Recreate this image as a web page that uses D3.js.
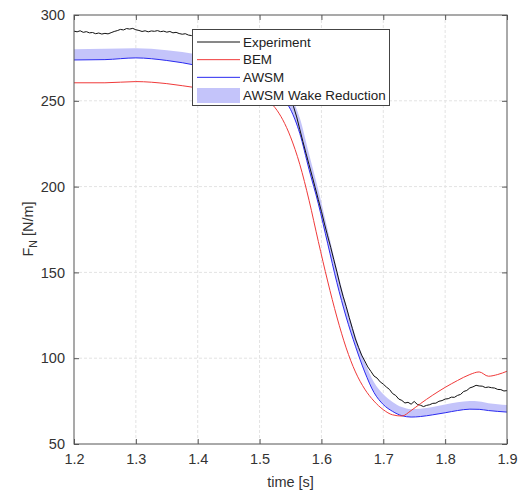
<!DOCTYPE html>
<html>
<head>
<meta charset="utf-8">
<script src="https://cdn.jsdelivr.net/npm/d3@7"></script>
<style>
  body { margin: 0; background: #fff; }
  svg { display: block; font-family: "Liberation Sans", Arial, sans-serif; }
</style>
</head>
<body>
<svg width="521" height="493"></svg>
<script>
// time grid for the two models [s]
const tModel = [1.2, 1.25, 1.3, 1.35, 1.4, 1.45, 1.5, 1.525, 1.55, 1.565, 1.58, 1.595, 1.61, 1.625,
  1.64, 1.655, 1.67, 1.685, 1.7, 1.715, 1.73, 1.745, 1.76, 1.78, 1.8, 1.82, 1.84, 1.855, 1.87, 1.885, 1.9]

// BEM normal force [N/m]
const bem = [260.5, 260.5, 261.2, 260, 257.5, 255.5, 252, 246, 229, 213, 192, 168, 145, 124,
  106, 92, 82, 75, 70, 67, 66.3, 69.5, 73.5, 78.5, 83, 87, 90.5, 92, 89.5, 90.5, 92.4]

// AWSM normal force (lower edge of band) [N/m]
const awsm = [273.8, 274, 275, 273.5, 270.5, 266, 259, 254, 245, 231, 210, 190, 167, 144,
  124, 107, 92, 80, 73, 69, 66.5, 65.7, 66, 67, 68.2, 69.5, 70.3, 70.2, 69.5, 69, 68.6]

// AWSM with wake reduction, upper edge of band [N/m]
const awsmUpper = [280, 280.3, 280.6, 279.5, 277, 273, 266, 261, 253, 240, 219, 198, 175, 152,
  131, 113, 98, 86, 79, 74.5, 71.5, 70.3, 70.5, 71.5, 73, 74.3, 75, 74.8, 73.8, 73.2, 72.7]

// experiment, sampled every 5 ms from 1.2 s
const expStart = 1.2
const expStep = 0.005
const experiment = [
  290.6, 290.2, 290.8, 289.9, 290.3, 289.6, 289.8, 289.1, 289.5, 288.9,
  289.3, 289.0, 289.7, 290.4, 290.9, 291.6, 291.3, 292.1, 291.8, 292.2,
  291.4, 291.0, 290.4, 290.8, 290.2, 290.7, 290.5, 290.9, 290.3, 290.6,
  290.0, 290.4, 289.6, 289.9, 289.2, 288.8, 289.1, 288.3, 288.0, 288.4,
  287.9, 287.6, 288.0, 287.4, 287.1, 287.5, 286.8, 286.5, 286.9, 286.2,
  285.9, 285.6, 285.9, 285.1, 284.7, 284.9, 284.2, 283.6, 283.0, 282.0,
  280.6, 279.3, 277.5, 275.6, 273.2, 270.4, 267.3, 263.8, 259.9, 255.8,
  251.2, 246.5, 240.6, 233.4, 226.3, 219.5, 212.8, 206.1, 199.3, 192.4,
  185.6, 178.2, 171.3, 164.6, 157.4, 150.3, 142.8, 136.1, 130.2, 123.6,
  117.4, 111.2, 106.3, 101.8, 98.4, 94.9, 92.3, 89.6, 88.4, 86.2,
  84.9, 83.2, 81.8, 79.4, 78.3, 76.2, 75.4, 73.9, 74.3, 73.2,
  74.8, 73.1, 72.6, 71.8, 72.5, 72.9, 73.7, 73.8, 74.9, 75.3,
  76.2, 76.4, 77.3, 77.2, 78.3, 78.9, 80.6, 81.2, 82.7, 83.3,
  84.2, 83.8, 83.7, 82.9, 83.2, 82.8, 82.6, 81.8, 81.7, 80.9,
  81.1
]

const xTicks = [1.2, 1.3, 1.4, 1.5, 1.6, 1.7, 1.8, 1.9]
const yTicks = [50, 100, 150, 200, 250, 300]
const legendNames = ["Experiment", "BEM", "AWSM", "AWSM Wake Reduction"]

//axes box
const boxLeft = 74, boxRight = 507, boxTop = 15, boxBottom = 444

const svg = d3.select("svg")

const x = d3.scaleLinear().domain([1.2, 1.9]).range([boxLeft, boxRight])
const y = d3.scaleLinear().domain([50, 300]).range([boxBottom, boxTop])

const clip = svg.append("clipPath").attr("id", "plotclip")
clip.append("rect")
  .attr("x", boxLeft).attr("y", boxTop)
  .attr("width", boxRight - boxLeft).attr("height", boxBottom - boxTop)

//grid
const grid = svg.append("g")
grid.selectAll("line.gx")
  .data(xTicks.slice(1, -1))
  .enter().append("line")
  .attr("class", "gx")
  .attr("x1", d => x(d)).attr("x2", d => x(d))
  .attr("y1", boxTop).attr("y2", boxBottom)
grid.selectAll("line.gy")
  .data(yTicks.slice(1, -1))
  .enter().append("line")
  .attr("class", "gy")
  .attr("y1", d => y(d)).attr("y2", d => y(d))
  .attr("x1", boxLeft).attr("x2", boxRight)
grid.selectAll("line")
  .attr("stroke", "#e3e3e3")
  .attr("stroke-dasharray", "3,2")

const plot = svg.append("g").attr("clip-path", "url(#plotclip)")

//wake reduction band
const modelRows = tModel.map((t, i) => ({ t: t, bem: bem[i], lo: awsm[i], hi: awsmUpper[i] }))

const bandGen = d3.area()
  .x(d => x(d.t))
  .y0(d => y(d.lo))
  .y1(d => y(d.hi))
  .curve(d3.curveMonotoneX)

plot.append("path")
  .attr("d", bandGen(modelRows))
  .attr("fill", "#c4c4fa")

const awsmLine = d3.line().x(d => x(d.t)).y(d => y(d.lo)).curve(d3.curveMonotoneX)
plot.append("path")
  .attr("d", awsmLine(modelRows))
  .attr("fill", "none")
  .attr("stroke", "#2a2af0")
  .attr("stroke-width", 1)

const expRows = experiment.map((v, i) => ({ t: expStart + i * expStep, v: v }))
const expLine = d3.line().x(d => x(d.t)).y(d => y(d.v))
plot.append("path")
  .attr("d", expLine(expRows))
  .attr("fill", "none")
  .attr("stroke", "#111")
  .attr("stroke-width", 1)

const bemLine = d3.line().x(d => x(d.t)).y(d => y(d.bem)).curve(d3.curveMonotoneX)
plot.append("path")
  .attr("d", bemLine(modelRows))
  .attr("fill", "none")
  .attr("stroke", "#f03a3a")
  .attr("stroke-width", 1)

//axes with inward ticks on all four sides
const axisColor = "#555"
const tickLen = 5
const styleAxis = function (g) {
  g.attr("font-family", null)
  g.select(".domain").remove()
  g.selectAll(".tick line").attr("stroke", axisColor)
  g.selectAll(".tick text").attr("fill", "#333").style("font-size", "14.5px")
}

svg.append("g")
  .attr("transform", `translate(0,${boxBottom})`)
  .call(d3.axisBottom(x).tickValues(xTicks).tickFormat(d3.format(".1f")).tickSizeInner(-tickLen).tickPadding(10))
  .call(styleAxis)
svg.append("g")
  .attr("transform", `translate(0,${boxTop})`)
  .call(d3.axisTop(x).tickValues(xTicks).tickFormat("").tickSizeInner(-tickLen))
  .call(styleAxis)
svg.append("g")
  .attr("transform", `translate(${boxLeft},0)`)
  .call(d3.axisLeft(y).tickValues(yTicks).tickSizeInner(-tickLen).tickPadding(9))
  .call(styleAxis)
svg.append("g")
  .attr("transform", `translate(${boxRight},0)`)
  .call(d3.axisRight(y).tickValues(yTicks).tickFormat("").tickSizeInner(-tickLen))
  .call(styleAxis)

svg.append("rect")
  .attr("x", boxLeft).attr("y", boxTop)
  .attr("width", boxRight - boxLeft).attr("height", boxBottom - boxTop)
  .attr("fill", "none")
  .attr("stroke", axisColor)
  .attr("stroke-width", 1)

//axis labels
svg.append("text")
  .attr("x", (boxLeft + boxRight) / 2).attr("y", 487)
  .attr("text-anchor", "middle")
  .attr("fill", "#333")
  .style("font-size", "14.5px")
  .text("time [s]")

const yLabel = svg.append("text")
  .attr("transform", "translate(33,229) rotate(-90)")
  .attr("text-anchor", "middle")
  .attr("fill", "#333")
  .style("font-size", "14.5px")
yLabel.append("tspan").text("F")
yLabel.append("tspan").attr("dy", 4).style("font-size", "10.5px").text("N")
yLabel.append("tspan").attr("dy", -4).text(" [N/m]")

//legend
const legend = svg.append("g")
legend.append("rect")
  .attr("x", 192.5).attr("y", 29.5)
  .attr("width", 197).attr("height", 76)
  .attr("fill", "#fff")
  .attr("stroke", "#444")
  .attr("stroke-width", 1)

const legendY = d3.scalePoint().domain(legendNames).range([42, 95])
const legendStyle = [
  { stroke: "#111" },
  { stroke: "#f03a3a" },
  { stroke: "#2a2af0" },
  { fill: "#c4c4fa" }
]

legendNames.forEach((name, i) => {
  const yy = legendY(name)
  if (legendStyle[i].fill) {
    legend.append("rect")
      .attr("x", 197).attr("y", yy - 7)
      .attr("width", 43).attr("height", 15)
      .attr("fill", legendStyle[i].fill)
  } else {
    legend.append("line")
      .attr("x1", 197).attr("x2", 240)
      .attr("y1", yy).attr("y2", yy)
      .attr("stroke", legendStyle[i].stroke)
      .attr("stroke-width", 1)
  }
  legend.append("text")
    .attr("x", 243).attr("y", yy)
    .attr("dy", "0.36em")
    .attr("fill", "#222")
    .style("font-size", "13.4px")
    .text(name)
})
</script>
</body>
</html>
